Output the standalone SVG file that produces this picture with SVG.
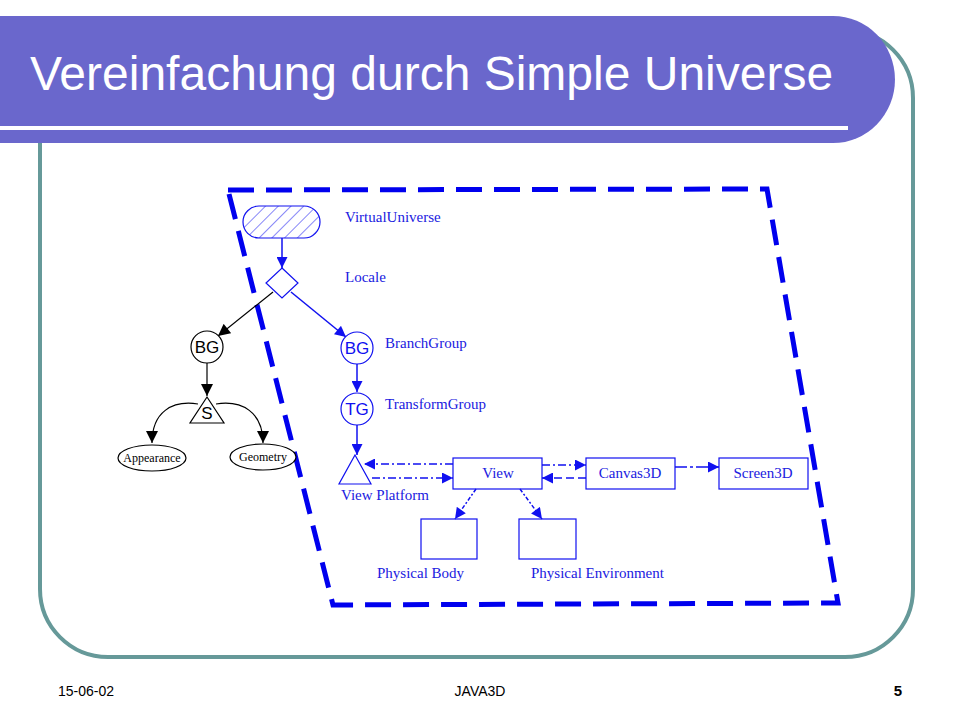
<svg xmlns="http://www.w3.org/2000/svg" width="960" height="720" viewBox="0 0 960 720">
<style>
.lbl{font-family:"Liberation Serif",serif;font-size:15px;fill:#2020E0}
.blu{fill:none;stroke:#1010F0;stroke-width:1.2}
.blk{fill:none;stroke:#000;stroke-width:1.2}
.cl{font-family:"Liberation Sans",Arial,sans-serif;font-size:17px;text-anchor:middle}
.el{font-family:"Liberation Serif",serif;font-size:12px;text-anchor:middle;fill:#000}
.con{fill:none;stroke:#1010F0;stroke-width:1.5}
</style>
<defs>
<marker id="ab" viewBox="0 0 10 10" refX="10" refY="5" markerWidth="12" markerHeight="11" markerUnits="userSpaceOnUse" orient="auto"><path d="M0,0 L10,5 L0,10 Z" fill="#1010F0"/></marker>
<marker id="abk" viewBox="0 0 10 10" refX="10" refY="5" markerWidth="13" markerHeight="12" markerUnits="userSpaceOnUse" orient="auto"><path d="M0,0 L10,5 L0,10 Z" fill="#000"/></marker>
<pattern id="hatch" width="9" height="9" patternUnits="userSpaceOnUse" patternTransform="rotate(45)"><line x1="0" y1="0" x2="0" y2="9" stroke="#1010F0" stroke-width="1"/></pattern>
</defs>
<rect width="960" height="720" fill="#fff"/>
<!-- frame -->
<rect x="40" y="30" width="873" height="627" rx="68" ry="68" fill="none" stroke="#669999" stroke-width="4"/>
<!-- title band -->
<path d="M0,16 H833 A62 63.5 0 0 1 833,143 H0 Z" fill="#6A67CC"/>
<rect x="0" y="126" width="848" height="4" fill="#fff"/>
<text x="30" y="90" font-family="'Liberation Sans',Arial,sans-serif" font-size="48" fill="#fff">Vereinfachung durch Simple Universe</text>
<!-- footer -->
<text x="58" y="696" font-family="'Liberation Sans',Arial,sans-serif" font-size="14" fill="#000">15-06-02</text>
<text x="480" y="696" font-family="'Liberation Sans',Arial,sans-serif" font-size="14" fill="#000" text-anchor="middle">JAVA3D</text>
<text x="898" y="696" font-family="'Liberation Sans',Arial,sans-serif" font-size="15" font-weight="bold" fill="#000" text-anchor="middle">5</text>
<!-- dashed boundary -->
<path d="M228,190 L767,189 L838,603 L333,605 Z" fill="none" stroke="#0000EE" stroke-width="5" stroke-dasharray="26 12"/>
<g id="connectors">
<line class="con" x1="282" y1="238" x2="282" y2="268" marker-end="url(#ab)"/>
<line class="blk" x1="273" y1="292" x2="218" y2="336" marker-end="url(#abk)"/>
<line class="con" x1="291" y1="292" x2="346" y2="337" marker-end="url(#ab)"/>
<line class="blk" x1="207" y1="363" x2="207" y2="396" marker-end="url(#abk)" stroke-width="1.5"/>
<path class="blk" d="M198,404 C172,400 152,412 152,443" stroke-width="2.5" marker-end="url(#abk)"/>
<path class="blk" d="M216,404 C242,400 263,412 263,443" stroke-width="2.5" marker-end="url(#abk)"/>
<line class="con" x1="357" y1="364" x2="357" y2="392" marker-end="url(#ab)"/>
<line class="con" x1="357" y1="425" x2="357" y2="455" marker-end="url(#ab)"/>
<line class="con" x1="453" y1="464" x2="364" y2="464" stroke-dasharray="8 3 2 3" marker-end="url(#ab)"/>
<line class="con" x1="372" y1="478" x2="453" y2="478" stroke-dasharray="8 3 2 3" marker-end="url(#ab)"/>
<line class="con" x1="542" y1="465" x2="586" y2="465" stroke-dasharray="8 3 2 3" marker-end="url(#ab)"/>
<line class="con" x1="586" y1="478" x2="542" y2="478" stroke-dasharray="8 4" marker-end="url(#ab)"/>
<line class="con" x1="675" y1="467" x2="719" y2="467" stroke-dasharray="12 3 3 3" marker-end="url(#ab)"/>
<line class="con" x1="476" y1="489" x2="455" y2="519" stroke-dasharray="4 2 2 2" marker-end="url(#ab)"/>
<line class="con" x1="520" y1="489" x2="542" y2="519" stroke-dasharray="4 2 2 2" marker-end="url(#ab)"/>
</g>
<g id="virtualuniverse">
<rect x="243" y="206" width="77" height="32" rx="16" ry="16" fill="url(#hatch)" stroke="#1010F0" stroke-width="1.2"/>
<text class="lbl" x="345" y="222">VirtualUniverse</text>
</g>
<g id="locale">
<path class="blu" d="M282,268 L298,283 L282,298 L266,283 Z" fill="#fff"/>
<text class="lbl" x="345" y="282">Locale</text>
</g>
<g id="bg-left">
<circle cx="207" cy="347" r="16" fill="#fff" stroke="#000" stroke-width="1.2"/>
<text class="cl" x="207" y="353" fill="#000">BG</text>
</g>
<g id="shape-s">
<path d="M207,397 L224,423 L190,423 Z" fill="#fff" stroke="#000" stroke-width="1.2"/>
<text class="cl" x="207" y="419" fill="#000">S</text>
</g>
<g id="appearance">
<ellipse cx="152" cy="458" rx="34" ry="13" fill="#fff" stroke="#000" stroke-width="1.2"/>
<text class="el" x="152" y="462">Appearance</text>
</g>
<g id="geometry">
<ellipse cx="263" cy="457" rx="33" ry="13" fill="#fff" stroke="#000" stroke-width="1.2"/>
<text class="el" x="263" y="461">Geometry</text>
</g>
<g id="branchgroup">
<circle cx="357" cy="348" r="16" fill="#fff" stroke="#1010F0" stroke-width="1.2"/>
<text class="cl" x="357" y="354" fill="#1010F0">BG</text>
<text class="lbl" x="385" y="348">BranchGroup</text>
</g>
<g id="transformgroup">
<circle cx="357" cy="409" r="16" fill="#fff" stroke="#1010F0" stroke-width="1.2"/>
<text class="cl" x="357" y="415" fill="#1010F0">TG</text>
<text class="lbl" x="385" y="409">TransformGroup</text>
</g>
<g id="viewplatform">
<path class="blu" d="M355,455 L371,484 L339,484 Z"/>
<text class="lbl" x="341" y="500">View Platform</text>
</g>
<g id="view">
<rect class="blu" x="453" y="458" width="89" height="31"/>
<text class="lbl" x="498" y="478" text-anchor="middle">View</text>
</g>
<g id="canvas3d">
<rect class="blu" x="586" y="458" width="89" height="31"/>
<text class="lbl" x="630" y="478" text-anchor="middle">Canvas3D</text>
</g>
<g id="screen3d">
<rect class="blu" x="719" y="458" width="89" height="31"/>
<text class="lbl" x="763" y="478" text-anchor="middle">Screen3D</text>
</g>
<g id="physicalbody">
<rect class="blu" x="421" y="519" width="56" height="40"/>
<text class="lbl" x="377" y="578">Physical Body</text>
</g>
<g id="physicalenvironment">
<rect class="blu" x="519" y="519" width="57" height="40"/>
<text class="lbl" x="531" y="578">Physical Environment</text>
</g>
</svg>
